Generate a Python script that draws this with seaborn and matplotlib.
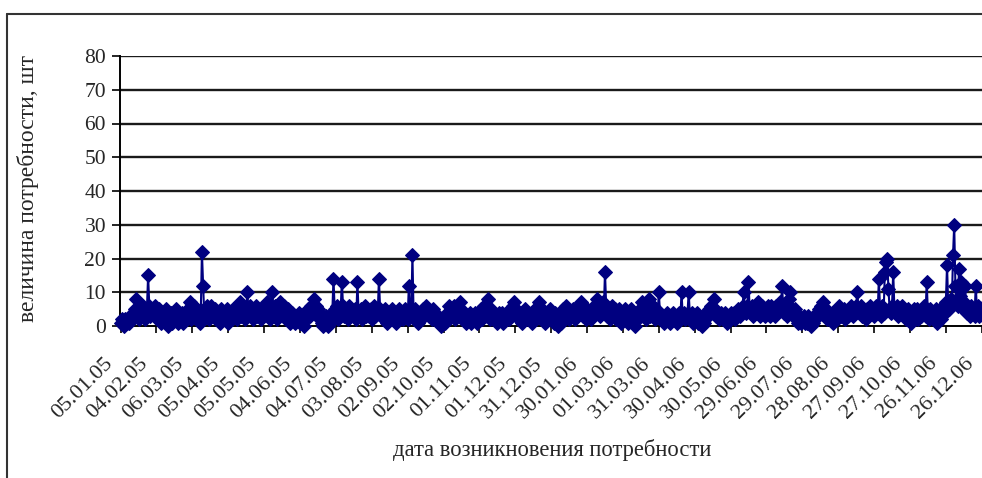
import numpy as np
import pandas as pd
import matplotlib
matplotlib.use("Agg")
import matplotlib.pyplot as plt
import matplotlib.transforms as mtransforms
from matplotlib.lines import Line2D
import seaborn as sns

# Daily demand, one list per month (2005 starts on 5 January)
jan05 = [1, 2, 1, 0, 2, 1, 2, 1, 3, 2, 4, 3, 5, 8, 3, 2, 4, 5, 3, 6, 2, 4, 5, 15, 6, 3, 4]
feb05 = [5, 3, 6, 4, 2, 5, 3, 1, 4, 2, 3, 5, 2, 0, 3, 4, 1, 2, 3, 5, 2, 1, 3, 2, 4, 1, 3, 2]
mar05 = [3, 5, 4, 7, 2, 4, 6, 3, 5, 2, 4, 1, 3, 22, 12, 3, 5, 6, 4, 2, 5, 6, 3, 4, 5, 2, 3, 4, 1, 5, 3]
apr05 = [2, 4, 3, 5, 1, 3, 4, 2, 5, 3, 4, 2, 3, 5, 7, 3, 6, 4, 2, 5, 10, 4, 6, 3, 5, 2, 4, 6, 3, 5]
may05 = [4, 2, 5, 3, 6, 4, 7, 3, 5, 2, 4, 10, 3, 6, 4, 2, 5, 7, 4, 5, 3, 6, 2, 4, 5, 3, 1, 4, 2, 3, 1]
jun05 = [3, 2, 4, 1, 3, 2, 0, 3, 2, 4, 5, 3, 6, 4, 5, 8, 6, 3, 5, 4, 2, 1, 0, 2, 1, 3, 0, 2, 1, 3]
jul05 = [4, 14, 5, 3, 6, 2, 4, 5, 13, 6, 3, 5, 4, 2, 6, 3, 5, 4, 3, 5, 2, 13, 4, 3, 5, 2, 4, 6, 3, 5, 4]
aug05 = [3, 5, 2, 4, 6, 3, 5, 4, 14, 5, 3, 4, 2, 5, 3, 1, 4, 2, 3, 5, 2, 4, 1, 3, 2, 5, 3, 4, 2, 3, 5]
sep05 = [4, 2, 12, 5, 3, 21, 3, 5, 2, 4, 1, 3, 2, 4, 5, 3, 6, 4, 5, 3, 4, 2, 5, 3, 4, 2, 3, 1, 2, 0]
oct05 = [1, 2, 1, 3, 4, 2, 6, 5, 3, 4, 6, 2, 5, 4, 3, 7, 5, 4, 2, 3, 1, 3, 2, 4, 1, 3, 2, 4, 3, 1, 2]
nov05 = [3, 5, 2, 4, 6, 3, 5, 8, 4, 2, 5, 3, 4, 2, 3, 1, 4, 2, 3, 4, 1, 3, 2, 4, 3, 2, 5, 4, 6, 7]
dec05 = [5, 3, 4, 2, 3, 4, 1, 3, 5, 2, 4, 3, 2, 4, 1, 3, 4, 5, 3, 6, 7, 4, 5, 2, 3, 1, 2, 4, 3, 5, 2]
jan06 = [3, 1, 4, 2, 3, 0, 2, 1, 3, 5, 4, 6, 3, 5, 2, 4, 3, 5, 4, 2, 3, 5, 4, 6, 7, 5, 3, 4, 2, 5, 3]
feb06 = [4, 2, 5, 3, 6, 5, 8, 4, 6, 3, 5, 7, 4, 16, 6, 3, 5, 2, 4, 6, 3, 5, 2, 4, 3, 5, 1, 3]
mar06 = [4, 2, 5, 3, 1, 4, 2, 5, 3, 4, 0, 3, 2, 4, 5, 3, 7, 4, 5, 2, 6, 4, 8, 3, 5, 6, 4, 2, 5, 3, 10]
apr06 = [4, 2, 3, 1, 3, 2, 4, 3, 1, 2, 3, 4, 2, 3, 1, 3, 4, 2, 10, 3, 4, 2, 3, 4, 10, 3, 2, 4, 1, 3]
may06 = [2, 4, 1, 3, 2, 0, 3, 1, 2, 4, 3, 5, 4, 6, 5, 8, 5, 3, 4, 2, 3, 4, 3, 2, 4, 3, 1, 3, 2, 4, 3]
jun06 = [3, 4, 2, 3, 5, 4, 3, 5, 6, 10, 5, 4, 6, 13, 5, 4, 6, 3, 5, 4, 6, 7, 5, 3, 6, 4, 5, 3, 4, 6]
jul06 = [5, 3, 6, 4, 5, 3, 6, 4, 5, 7, 5, 12, 6, 4, 5, 3, 6, 8, 10, 5, 4, 3, 5, 2, 1, 3, 2, 1, 2, 3, 1]
aug06 = [2, 1, 3, 2, 0, 2, 1, 3, 2, 4, 3, 5, 4, 6, 7, 4, 3, 5, 2, 4, 3, 2, 4, 1, 3, 4, 2, 5, 6, 3, 4]
sep06 = [3, 5, 2, 4, 3, 5, 4, 6, 3, 5, 4, 6, 10, 5, 4, 6, 3, 5, 4, 2, 5, 3, 4, 6, 5, 4, 3, 5, 6, 4]
oct06 = [14, 5, 3, 6, 4, 16, 19, 20, 11, 5, 4, 6, 16, 5, 4, 6, 3, 5, 4, 6, 5, 3, 4, 2, 5, 3, 4, 1, 3, 5, 2]
nov06 = [3, 5, 2, 4, 3, 5, 4, 6, 3, 13, 4, 2, 5, 3, 4, 2, 3, 5, 1, 3, 4, 2, 5, 6, 4, 7, 18, 6, 5, 8]
dec06 = [6, 21, 30, 12, 8, 6, 17, 9, 13, 5, 7, 12, 6, 4, 5, 3, 6, 4, 5, 3, 12, 5, 6, 3, 4, 5, 3, 6, 4, 2, 3]

months = [jan05, feb05, mar05, apr05, may05, jun05, jul05, aug05, sep05, oct05, nov05, dec05,
          jan06, feb06, mar06, apr06, may06, jun06, jul06, aug06, sep06, oct06, nov06, dec06]
demand = [v for m in months for v in m]
dates = pd.date_range("2005-01-05", periods=len(demand), freq="D")

df = pd.DataFrame({"day": np.arange(len(demand)), "date": dates, "demand": demand})

label_step = 30
y_ticks = [0, 10, 20, 30, 40, 50, 60, 70, 80]

sns.set_style("white")
plt.rcParams["font.family"] = ["Liberation Serif", "DejaVu Serif"]

W, H = 982, 478
fig = plt.figure(figsize=(W / 100, H / 100), dpi=100)
fig.patch.set_facecolor("white")

# plot area in pixel coordinates
left_px, right_px, top_px, bottom_px = 120, 120 + 726 * 1.196, 56, 326
ax = fig.add_axes([left_px / W, 1 - bottom_px / H,
                   (right_px - left_px) / W, (bottom_px - top_px) / H])

navy = "#000080"
sns.lineplot(data=df, x="day", y="demand", ax=ax, color=navy, linewidth=1.5,
             marker="D", markersize=7.2, markeredgecolor=navy, markerfacecolor=navy,
             clip_on=False, zorder=3)

ax.set_xlim(-0.5, len(demand) - 0.5)
ax.set_ylim(0, 80)
ax.set_yticks(y_ticks)
ax.set_yticklabels([str(t) for t in y_ticks], fontsize=15.5)

tick_days = df["day"].values[::label_step]
tick_labels = [d.strftime("%d.%m.%y") for d in df["date"].iloc[::label_step]]
ax.set_xticks(tick_days)
ax.set_xticklabels(tick_labels, rotation=45, ha="right", va="center",
                   rotation_mode="anchor", fontsize=16)

ax.tick_params(axis="x", direction="out", length=5, width=1.2, color="black", pad=20, bottom=True)
ax.tick_params(axis="y", direction="out", length=6, width=1.2, color="black", pad=4, left=True)
shift = mtransforms.ScaledTranslation(-0.11, 0, fig.dpi_scale_trans)
for lbl in ax.get_xticklabels():
    lbl.set_transform(lbl.get_transform() + shift)

ax.grid(False)
for y in y_ticks[1:]:
    ax.axhline(y, color="#1a1a1a", linewidth=1.7, zorder=1)

for side in ["top", "right"]:
    ax.spines[side].set_visible(False)
for side in ["left", "bottom"]:
    ax.spines[side].set_color("black")
    ax.spines[side].set_linewidth(1.4)

ax.set_xlabel("")
ax.set_ylabel("")

fig.text(28 / W, 1 - 188 / H, "величина потребности, шт", rotation=90,
         ha="center", va="center", fontsize=17)
fig.text(552 / W, 1 - 450 / H, "дата возникновения потребности",
         ha="center", va="center", fontsize=16.3)

# chart frame
fig.add_artist(Line2D([7 / W, 1.01], [1 - 14 / H, 1 - 14 / H], transform=fig.transFigure,
                      color="#333333", linewidth=1.5))
fig.add_artist(Line2D([7 / W, 7 / W], [1 - 14 / H, -0.01], transform=fig.transFigure,
                      color="#333333", linewidth=1.5))

fig.savefig("out.png", dpi=100)
